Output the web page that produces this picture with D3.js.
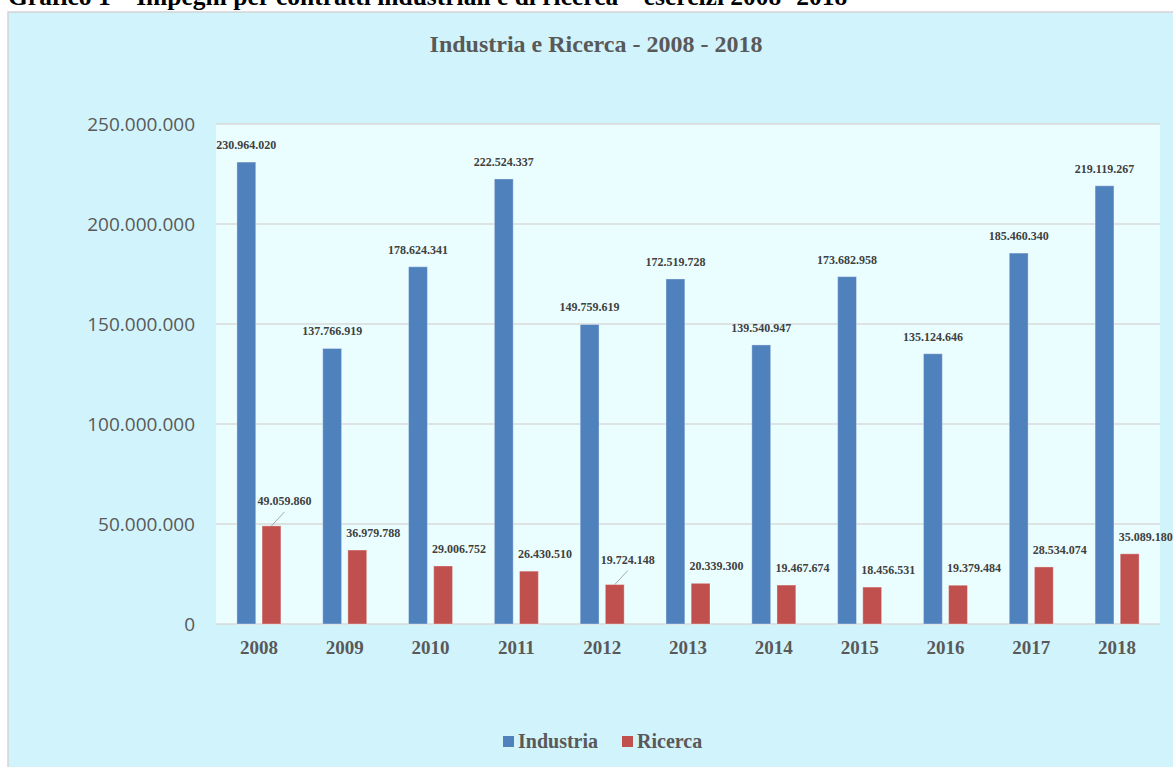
<!DOCTYPE html>
<html>
<head>
<meta charset="utf-8">
<script src="https://cdn.jsdelivr.net/npm/d3@7"></script>
<style>
  html, body { margin: 0; padding: 0; background: #ffffff; }
  svg { display: block; }
</style>
</head>
<body>
<svg id="chart" width="1173" height="767"></svg>
<script>
const years = ['2008', '2009', '2010', '2011', '2012', '2013', '2014', '2015', '2016', '2017', '2018'];
const seriesNames = ['Industria', 'Ricerca'];
const industria = [230964020, 137766919, 178624341, 222524337, 149759619, 172519728, 139540947, 173682958, 135124646, 185460340, 219119267];
const ricerca = [49059860, 36979788, 29006752, 26430510, 19724148, 20339300, 19467674, 18456531, 19379484, 28534074, 35089180];
const yTicks = [0, 50000000, 100000000, 150000000, 200000000, 250000000];
const leaderYears = ['2008', '2012'];

const colors = { Industria: '#4f81bd', Ricerca: '#c0504d' };
const serif = '"Liberation Serif", "Times New Roman", serif';
const sans = '"Open Sans", "Noto Sans", sans-serif';

const itFormat = d3.formatLocale({ decimal: ',', thousands: '.', grouping: [3], currency: ['€', ''] }).format(',d');

const svg = d3.select('#chart');
const W = 1173, H = 767;

// heading of the page above the chart (cropped at the top, as in the source)
svg.append('text')
  .attr('x', 8).attr('y', 5)
  .attr('font-family', serif).attr('font-weight', 'bold').attr('font-size', 25.5)
  .attr('fill', '#000')
  .text('Grafico 1 – Impegni per contratti industriali e di ricerca – esercizi 2008- 2018');

// chart area
svg.append('rect')
  .attr('x', 8).attr('y', 12).attr('width', W).attr('height', H)
  .attr('fill', '#d1f3fc').attr('stroke', '#d4d4d4').attr('stroke-width', 1.5);

const plot = { left: 216, right: 1160, top: 124, bottom: 624 };

svg.append('rect')
  .attr('x', plot.left).attr('y', plot.top)
  .attr('width', plot.right - plot.left).attr('height', plot.bottom - plot.top)
  .attr('fill', '#eafeff');

svg.append('text')
  .attr('x', 596).attr('y', 52)
  .attr('text-anchor', 'middle')
  .attr('font-family', serif).attr('font-weight', 'bold').attr('font-size', 24)
  .attr('fill', '#595959')
  .text('Industria e Ricerca - 2008 - 2018');

const x0 = d3.scaleBand().domain(years).range([plot.left, plot.right]).padding(0);
const bw = x0.bandwidth();
const x1 = d3.scaleBand().domain(seriesNames).range([bw / 2 - 22, bw / 2 + 22]).paddingInner(0.25);
const y = d3.scaleLinear().domain([0, 250000000]).range([plot.bottom, plot.top]);

// gridlines
svg.append('g')
  .selectAll('line')
  .data(yTicks)
  .join('line')
  .attr('x1', plot.left).attr('x2', plot.right)
  .attr('y1', (d) => y(d)).attr('y2', (d) => y(d))
  .attr('stroke', '#d9d9d9').attr('stroke-width', 1.5);

// y axis labels
const yAxis = svg.append('g')
  .attr('transform', `translate(${plot.left},0)`)
  .call(d3.axisLeft(y).tickValues(yTicks).tickFormat((d) => itFormat(d)).tickSize(0).tickPadding(21));
yAxis.select('.domain').remove();
yAxis.selectAll('text')
  .attr('font-family', sans).attr('font-size', 19).attr('fill', '#595959');

// x axis labels
const xAxis = svg.append('g')
  .attr('transform', `translate(0,${plot.bottom})`)
  .call(d3.axisBottom(x0).tickSize(0).tickPadding(17));
xAxis.select('.domain').remove();
xAxis.selectAll('text')
  .attr('font-family', serif).attr('font-weight', 'bold').attr('font-size', 19).attr('fill', '#595959');

const rows = years.map((yr, i) => ({ year: yr, Industria: industria[i], Ricerca: ricerca[i] }));

const groups = svg.append('g')
  .selectAll('g')
  .data(rows)
  .join('g')
  .attr('transform', (d) => `translate(${x0(d.year)},0)`);

groups.selectAll('rect')
  .data((d) => seriesNames.map((s) => ({ series: s, value: d[s], year: d.year })))
  .join('rect')
  .attr('x', (d) => x1(d.series))
  .attr('y', (d) => y(d.value))
  .attr('width', x1.bandwidth())
  .attr('height', (d) => y(0) - y(d.value))
  .attr('fill', (d) => colors[d.series])
  .attr('stroke', '#ffffff').attr('stroke-opacity', 0.35).attr('stroke-width', 1);

// data labels
const labelData = rows.flatMap((d) => seriesNames.map((s) => ({ series: s, value: d[s], year: d.year })));
const labels = svg.append('g');

labelData.forEach((d) => {
  const cx = x0(d.year) + x1(d.series) + x1.bandwidth() / 2;
  const top = y(d.value);
  let lx = cx, ly = top - 13;
  if (d.series === 'Ricerca') {
    const leader = leaderYears.includes(d.year);
    lx = cx + (leader ? 13 : 16);
    ly = top - (leader ? 21 : 13);
    if (leader) {
      labels.append('line')
        .attr('x1', cx).attr('y1', top)
        .attr('x2', cx + 13).attr('y2', top - 14)
        .attr('stroke', '#a6a6a6').attr('stroke-width', 1);
    }
  }
  labels.append('text')
    .attr('x', lx).attr('y', ly)
    .attr('text-anchor', 'middle')
    .attr('font-family', serif).attr('font-weight', 'bold').attr('font-size', 12)
    .attr('fill', '#404040')
    .text(itFormat(d.value));
});

// legend
const legend = svg.append('g');
const legendItems = [{ name: 'Industria', x: 503 }, { name: 'Ricerca', x: 622 }];
legendItems.forEach((it) => {
  legend.append('rect')
    .attr('x', it.x).attr('y', 736).attr('width', 11).attr('height', 11)
    .attr('fill', colors[it.name]);
  legend.append('text')
    .attr('x', it.x + 15).attr('y', 748)
    .attr('font-family', serif).attr('font-weight', 'bold').attr('font-size', 20)
    .attr('fill', '#595959')
    .text(it.name);
});
</script>
</body>
</html>
